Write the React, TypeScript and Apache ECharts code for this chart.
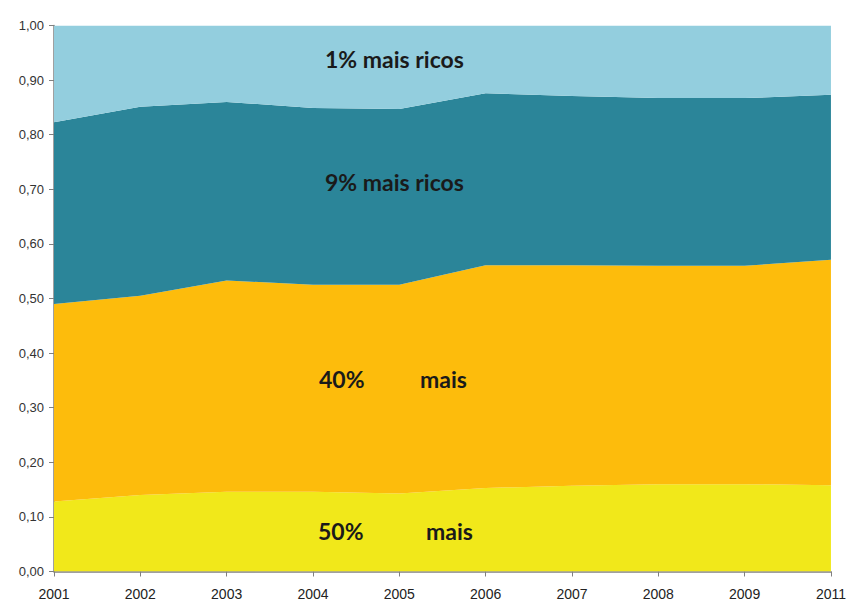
import React, { useEffect, useRef } from "react";
import * as echarts from "echarts";

const years = ["2001", "2002", "2003", "2004", "2005", "2006", "2007", "2008", "2009", "2011"];
const bottom50 = [0.128, 0.14, 0.146, 0.146, 0.143, 0.153, 0.157, 0.16, 0.16, 0.158];
const middle40 = [0.362, 0.365, 0.387, 0.379, 0.382, 0.408, 0.404, 0.4, 0.4, 0.413];
const rich9 = [0.333, 0.346, 0.327, 0.324, 0.322, 0.315, 0.31, 0.307, 0.307, 0.302];
const rich1 = [0.177, 0.149, 0.14, 0.151, 0.153, 0.124, 0.129, 0.133, 0.133, 0.127];

const seriesNames = ["50% mais pobres", "40% intermediários", "9% mais ricos", "1% mais ricos"];
const seriesColors = ["#F1E81A", "#FDBC0C", "#2B8599", "#93CEDE"];

export default function App() {
  const ref = useRef<HTMLDivElement>(null);

  useEffect(() => {
    if (!ref.current) return;
    const chart = echarts.init(ref.current, null, { renderer: "svg" });
    const dataSets = [bottom50, middle40, rich9, rich1];
    const labelStyle = {
      fill: "#1a1a1a",
      fontSize: 23,
      fontWeight: "bold",
      fontFamily: "Lato, 'Noto Sans', sans-serif",
    };
    chart.setOption({
      animation: false,
      backgroundColor: "#ffffff",
      grid: { left: 54, right: 15, top: 25.5, bottom: 29.5, containLabel: false },
      xAxis: {
        type: "category",
        data: years,
        boundaryGap: false,
        axisLine: { lineStyle: { color: "#808080", width: 1.5 } },
        axisTick: { show: true, alignWithLabel: true, length: 5, lineStyle: { color: "#808080" } },
        axisLabel: {
          color: "#222",
          fontSize: 14,
          fontFamily: "'Liberation Sans', Arial, sans-serif",
          margin: 15,
          interval: 0,
        },
        splitLine: { show: false },
      },
      yAxis: {
        type: "value",
        min: 0,
        max: 1,
        interval: 0.1,
        axisLine: { show: true, lineStyle: { color: "#808080", width: 1.5 } },
        axisTick: { show: true, length: 5, lineStyle: { color: "#808080" } },
        axisLabel: {
          color: "#333",
          fontSize: 13,
          fontFamily: "'Liberation Sans', Arial, sans-serif",
          margin: 10,
          formatter: (v: number) => v.toFixed(2).replace(".", ","),
        },
        splitLine: { show: false },
      },
      series: dataSets.map((d, i) => ({
        name: seriesNames[i],
        type: "line",
        stack: "total",
        data: d,
        symbol: "none",
        lineStyle: { width: 0 },
        areaStyle: { color: seriesColors[i], opacity: 1 },
        itemStyle: { color: seriesColors[i] },
        z: 2,
      })),
      graphic: [
        { type: "text", z: 100, left: 325, top: 47, style: { ...labelStyle, text: "1% mais ricos" } },
        { type: "text", z: 100, left: 325, top: 170, style: { ...labelStyle, text: "9% mais ricos" } },
        { type: "text", z: 100, left: 319, top: 367, style: { ...labelStyle, text: "40%" } },
        { type: "text", z: 100, left: 420, top: 367, style: { ...labelStyle, text: "mais" } },
        { type: "text", z: 100, left: 318, top: 519, style: { ...labelStyle, text: "50%" } },
        { type: "text", z: 100, left: 426, top: 519, style: { ...labelStyle, text: "mais" } },
      ],
    });
    return () => chart.dispose();
  }, []);

  return <div ref={ref} style={{ width: 849, height: 601, position: "absolute", left: 0, top: 0 }} />;
}
